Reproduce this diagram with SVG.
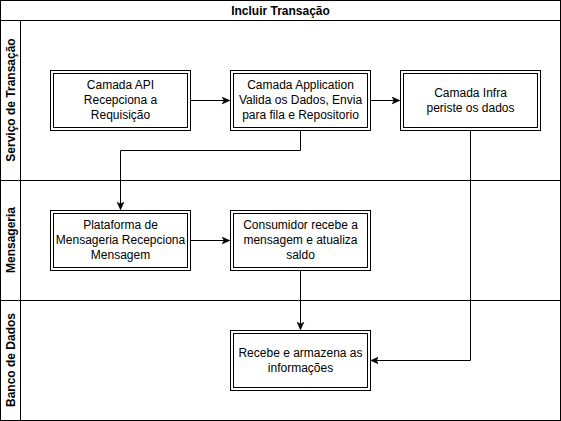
<svg xmlns="http://www.w3.org/2000/svg" width="561" height="421" viewBox="0 0 561 421">
<style>
.frame{fill:none;stroke:#000;stroke-width:1}
.box{fill:#fff;stroke:#000;stroke-width:1}
.t{font-family:"Liberation Sans",Arial,sans-serif;font-size:12px;fill:#000;text-anchor:middle}
.lane{font-family:"Liberation Sans",Arial,sans-serif;font-size:12px;font-weight:bold;fill:#000;text-anchor:middle}
.c{fill:none;stroke:#000;stroke-width:1}
</style>
<defs>
<marker id="arr" viewBox="0 0 10 10" refX="9" refY="5" markerWidth="8" markerHeight="8" markerUnits="userSpaceOnUse" orient="auto">
<path d="M0,1 L9,5 L0,9 L2.5,5 Z" fill="#000" stroke="#000" stroke-width="1"/>
</marker>
</defs>
<rect x="0" y="0" width="561" height="421" fill="#fff"/>
<g id="pool">
<rect class="frame" x="0.5" y="0.5" width="560" height="420"/>
<line class="frame" x1="0.5" y1="20.5" x2="560.5" y2="20.5"/>
<text class="lane" x="280.5" y="15">Incluir Transação</text>
</g>
<g id="lanes">
<line class="frame" x1="20.5" y1="20.5" x2="20.5" y2="420.5"/>
<line class="frame" x1="0.5" y1="180.5" x2="560.5" y2="180.5"/>
<line class="frame" x1="0.5" y1="300.5" x2="560.5" y2="300.5"/>
<text class="lane" transform="translate(14.5,100) rotate(-90)">Serviço de Transação</text>
<text class="lane" transform="translate(14.5,240) rotate(-90)">Mensageria</text>
<text class="lane" transform="translate(14.5,360) rotate(-90)">Banco de Dados</text>
</g>
<g id="connectors">
<path class="c" d="M190.5,100.5 L229.5,100.5" marker-end="url(#arr)"/>
<path class="c" d="M370.5,100.5 L399.5,100.5" marker-end="url(#arr)"/>
<path class="c" d="M300.5,130.5 L300.5,150.5 L120.5,150.5 L120.5,209.5" marker-end="url(#arr)"/>
<path class="c" d="M470.5,130.5 L470.5,360.5 L371,360.5" marker-end="url(#arr)"/>
<path class="c" d="M190.5,240.5 L229.5,240.5" marker-end="url(#arr)"/>
<path class="c" d="M300.5,270.5 L300.5,329.5" marker-end="url(#arr)"/>
</g>
<g id="n1">
<rect class="box" x="50.5" y="70.5" width="140" height="60"/>
<rect class="box" x="53.5" y="73.5" width="134" height="54"/>
<text class="t" x="120.5" y="89">Camada API</text>
<text class="t" x="120.5" y="104">Recepciona a</text>
<text class="t" x="120.5" y="119">Requisição</text>
</g>
<g id="n2">
<rect class="box" x="230.5" y="70.5" width="140" height="60"/>
<rect class="box" x="233.5" y="73.5" width="134" height="54"/>
<text class="t" x="300.5" y="89">Camada Application</text>
<text class="t" x="300.5" y="104">Valida os Dados, Envia</text>
<text class="t" x="300.5" y="119">para fila e Repositorio</text>
</g>
<g id="n3">
<rect class="box" x="400.5" y="70.5" width="140" height="60"/>
<rect class="box" x="403.5" y="73.5" width="134" height="54"/>
<text class="t" x="470.5" y="96.5">Camada Infra</text>
<text class="t" x="470.5" y="111.5">periste os dados</text>
</g>
<g id="n4">
<rect class="box" x="50.5" y="210.5" width="140" height="60"/>
<rect class="box" x="53.5" y="213.5" width="134" height="54"/>
<text class="t" x="120.5" y="229">Plataforma de</text>
<text class="t" x="120.5" y="244">Mensageria Recepciona</text>
<text class="t" x="120.5" y="259">Mensagem</text>
</g>
<g id="n5">
<rect class="box" x="230.5" y="210.5" width="140" height="60"/>
<rect class="box" x="233.5" y="213.5" width="134" height="54"/>
<text class="t" x="300.5" y="229">Consumidor recebe a</text>
<text class="t" x="300.5" y="244">mensagem e atualiza</text>
<text class="t" x="300.5" y="259">saldo</text>
</g>
<g id="n6">
<rect class="box" x="230.5" y="330.5" width="140" height="60"/>
<rect class="box" x="233.5" y="333.5" width="134" height="54"/>
<text class="t" x="300.5" y="356.5">Recebe e armazena as</text>
<text class="t" x="300.5" y="371.5">informações</text>
</g>
</svg>
